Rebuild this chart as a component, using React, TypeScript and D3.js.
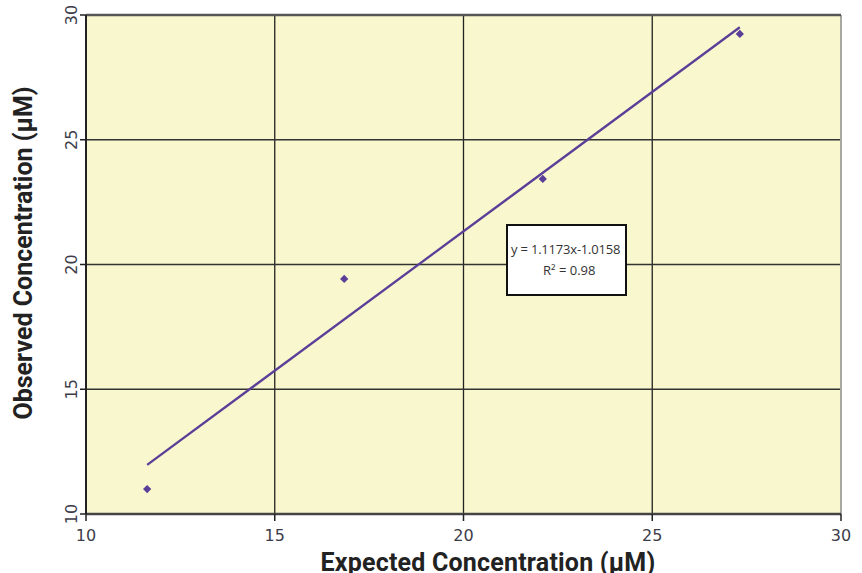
import React from "react";
import * as d3 from "d3";

const expected = [11.62, 16.84, 22.1, 27.32];
const observed = [11.0, 19.42, 23.43, 29.24];
const slope = 1.1173;
const intercept = -1.0158;
const xTicks = [10, 15, 20, 25, 30];
const yTicks = [10, 15, 20, 25, 30];
const eqLabel = "y = 1.1173x-1.0158";
const r2Label = "R² = 0.98";
const xTitle = "Expected Concentration (μM)";
const yTitle = "Observed Concentration (μM)";

export default function App() {
  const W = 862, H = 573;
  const L = 86, R = 841, T = 15, B = 514;
  const x = d3.scaleLinear().domain([10, 30]).range([L, R]);
  const y = d3.scaleLinear().domain([10, 30]).range([B, T]);
  const x0 = d3.min(expected)!, x1 = d3.max(expected)!;
  const line = d3.line<number>().x(d => x(d)).y(d => y(slope * d + intercept));
  const marker = d3.symbol(d3.symbolSquare, 34)();
  const purple = "#5a3e98";
  const tickColor = "#3d3d4a";
  return (
    <svg width={W} height={H} style={{ position: "absolute", left: 0, top: 0 }}>
      <rect x={L} y={T} width={R - L} height={B - T} fill="#f9f7cd" />
      {xTicks.slice(1, -1).map(t => (
        <line key={"gx" + t} x1={x(t)} x2={x(t)} y1={T} y2={B} stroke="#222" strokeWidth={1.3} />
      ))}
      {yTicks.slice(1, -1).map(t => (
        <line key={"gy" + t} x1={L} x2={R} y1={y(t)} y2={y(t)} stroke="#333" strokeWidth={1.6} />
      ))}
      <line x1={R} x2={R} y1={T} y2={B} stroke="#a8a8a0" strokeWidth={2} />
      <line x1={L} x2={R} y1={T} y2={T} stroke="#555" strokeWidth={2.5} />
      <line x1={L} x2={R} y1={B} y2={B} stroke="#444" strokeWidth={2.5} />
      <line x1={L} x2={L} y1={T} y2={B} stroke="#222" strokeWidth={2} />
      {xTicks.map(t => (
        <g key={"tx" + t}>
          <line x1={x(t)} x2={x(t)} y1={B} y2={B + 7} stroke="#222" strokeWidth={1.5} />
          <text x={x(t)} y={541} textAnchor="middle" fontFamily="DejaVu Sans" fontSize={16} fill={tickColor}>{t}</text>
        </g>
      ))}
      {yTicks.map(t => (
        <g key={"ty" + t}>
          <line x1={L - 6} x2={L} y1={y(t)} y2={y(t)} stroke="#222" strokeWidth={1.5} />
          <text transform={`translate(77,${y(t)}) rotate(-90)`} textAnchor="middle" fontFamily="DejaVu Sans" fontSize={16} fill={tickColor}>{t}</text>
        </g>
      ))}
      <path d={line([x0, x1]) || ""} stroke={purple} strokeWidth={2.3} fill="none" />
      {expected.map((e, i) => (
        <path key={"p" + i} d={marker || ""} transform={`translate(${x(e)},${y(observed[i])}) rotate(45)`} fill={purple} />
      ))}
      <rect x={507} y={225} width={119} height={70} fill="#fff" stroke="#111" strokeWidth={2} />
      <text x={511} y={254} fontFamily="Open Sans" fontSize={13} fill="#333" letterSpacing={-0.2}>{eqLabel}</text>
      <text x={543} y={275} fontFamily="Open Sans" fontSize={13} fill="#333">{r2Label}</text>
      <text x={488} y={571} textAnchor="middle" fontFamily="Roboto" fontWeight="bold" fontSize={25} letterSpacing={0.2} fill="#222">{xTitle}</text>
      <text transform={`translate(32,253) rotate(-90)`} textAnchor="middle" fontFamily="Roboto" fontWeight="bold" fontSize={25} fill="#222">{yTitle}</text>
    </svg>
  );
}
